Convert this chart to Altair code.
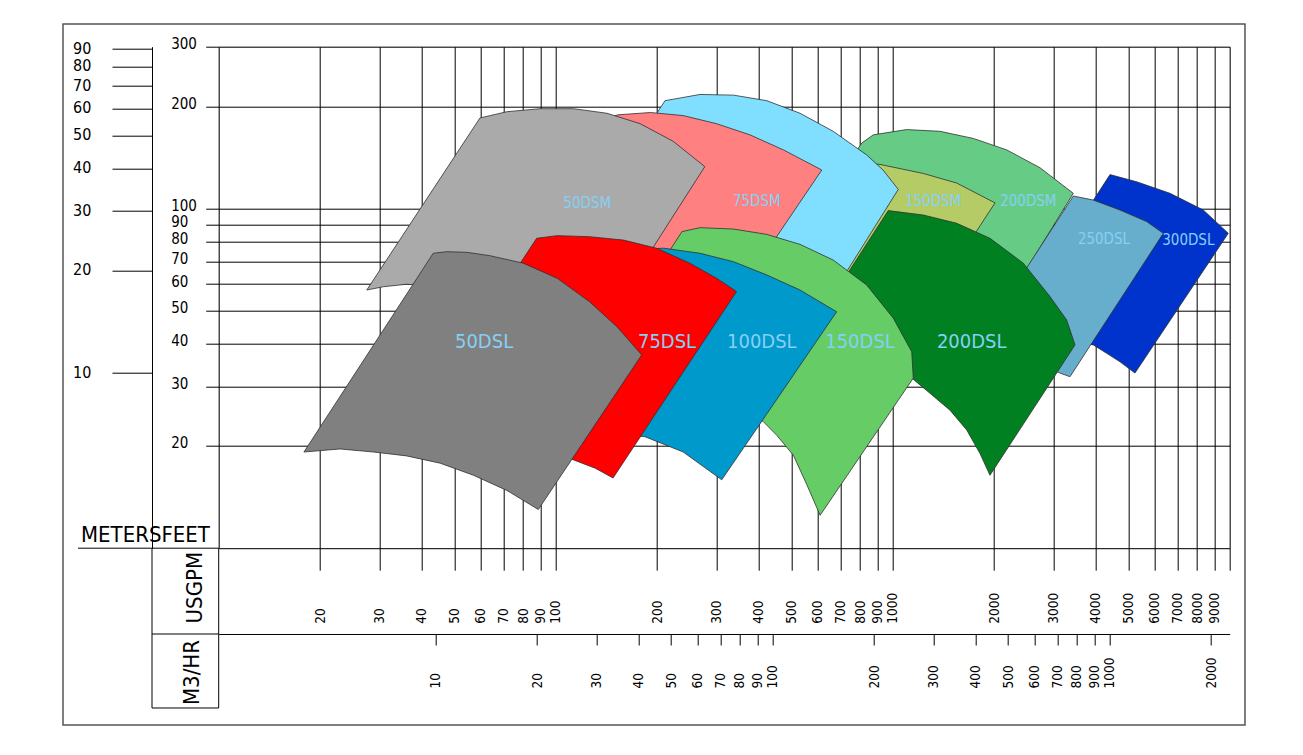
import altair as alt
import pandas as pd

NARROW = "DejaVu Sans Condensed, Liberation Sans Narrow, Liberation Sans, sans-serif"
LABEL_COLOR = "#86D0F4"

# ---------------- axis tick values ----------------
gpm_ticks = [20, 30, 40, 50, 60, 70, 80, 90, 100, 200, 300, 400, 500, 600, 700, 800, 900,
             1000, 2000, 3000, 4000, 5000, 6000, 7000, 8000, 9000, 10000]
feet_ticks = [20, 30, 40, 50, 60, 70, 80, 90, 100, 200, 300]
meter_ticks = [10, 20, 30, 40, 50, 60, 70, 80, 90]
m3_ticks = [10, 20, 30, 40, 50, 60, 70, 80, 90, 100, 200, 300, 400, 500, 600, 700, 800, 900,
            1000, 2000]

# ---------------- pump coverage areas: boundary points (USGPM, feet) ----------------
s50DSL_gpm = [17.9, 43.3, 47.5, 54.4, 63.8, 80.1, 101, 126, 152, 180, 88.8, 71.6, 57.0, 45.4, 36.1, 28.8, 22.9]
s50DSL_ft = [19.2, 73.9, 74.7, 74.4, 72.7, 69.1, 62.4, 53.2, 44.9, 37.1, 13.0, 14.8, 16.4, 17.8, 18.7, 19.2, 19.6]

s50DSM_gpm = [27.5, 59.6, 71.6, 89.9, 113, 142, 178, 223, 277, 126, 103, 78.4, 59.6, 45.4, 36.1, 30.8]
s50DSM_ft = [57.6, 185, 193, 197, 197, 191, 178, 158, 133, 39.2, 45.4, 52.0, 56.5, 59.2, 59.9, 58.9]

s75DSL_gpm = [37.4, 87.8, 101, 126, 159, 199, 250, 300, 344, 148, 131, 113, 89.9, 68.4, 52.0]
s75DSL_ft = [22.6, 81.8, 83.3, 82.7, 80.8, 76.5, 69.1, 62.4, 57.0, 16.1, 17.2, 18.2, 20.1, 21.8, 22.8]

s75DSM_gpm = [62.1, 140, 153, 191, 239, 300, 377, 474, 616, 262, 204, 155, 118, 89.9]
s75DSM_ft = [53.1, 184, 189, 192, 188, 178, 165, 149, 130, 37.1, 42.5, 47.7, 51.3, 53.1]

s100DSL_gpm = [69.3, 164, 209, 268, 337, 423, 531, 682, 311, 239, 184, 135, 96.2]
s100DSL_ft = [20.8, 75.6, 76.5, 73.9, 69.8, 63.8, 57.6, 49.7, 15.9, 19.2, 21.3, 22.0, 21.8]

s100DSM_gpm = [93.6, 211, 268, 337, 423, 531, 666, 837, 936, 1039, 459, 352, 268, 191, 135]
s100DSM_ft = [59.6, 208, 217, 216, 208, 191, 169, 144, 130, 114, 31.3, 37.1, 43.9, 52.0, 57.6]

s150DSL_gpm = [97.5, 237, 268, 337, 423, 531, 666, 837, 1004, 1139, 1151, 609, 556, 507, 453, 413, 352, 268, 191, 135]
s150DSL_ft = [22.0, 85.6, 87.9, 87.1, 84.0, 78.5, 70.6, 59.6, 47.6, 37.9, 31.7, 12.5, 15.4, 18.8, 21.5, 23.6, 25.9, 25.5, 24.7, 23.5]

s150DSM_gpm = [397, 773, 917, 1232, 1548, 2012, 1030, 747, 531]
s150DSM_ft = [49.6, 137, 135, 127, 119, 104, 37.6, 45.4, 48.6]

s200DSL_gpm = [424, 970, 1232, 1548, 1944, 2441, 2930, 3283, 3475, 1944, 1816, 1658, 1479, 1290, 1139, 856, 609]
s200DSL_ft = [27.7, 98.7, 95.8, 90.6, 81.8, 69.1, 55.1, 47.0, 39.7, 16.4, 19.0, 22.3, 25.5, 28.6, 31.7, 32.6, 30.1]

s200DSM_gpm = [398, 809, 876, 1100, 1381, 1735, 2179, 2736, 3435, 1760, 1290, 917, 609]
s200DSM_ft = [52.8, 156, 165, 171, 169, 161, 149, 132, 111, 37.6, 47.0, 52.0, 53.8]

s250DSL_gpm = [1684, 3435, 3938, 4726, 5671, 6353, 3358, 3136, 2736, 2229]
s250DSL_ft = [36.6, 109, 106, 99.1, 91.6, 84.6, 32.0, 32.8, 34.9, 36.3]

s300DSL_gpm = [2125, 4414, 5297, 6650, 8350, 9904, 5236, 4726, 4315, 3938, 2930]
s300DSL_ft = [41.1, 126, 120, 111, 99.1, 84.6, 32.8, 35.4, 37.5, 39.7, 41.6]

# drawing order (back to front) and fill colours
shape_order = ["300DSL", "200DSM", "250DSL", "150DSM", "100DSM", "75DSM", "50DSM",
               "200DSL", "150DSL", "100DSL", "75DSL", "50DSL"]
shape_colors = {
    "50DSL": "#808080", "50DSM": "#AAAAAA",
    "75DSL": "#FF0000", "75DSM": "#FF8080",
    "100DSL": "#0099CC", "100DSM": "#80DFFF",
    "150DSL": "#66CC66", "150DSM": "#B5CC66",
    "200DSL": "#008020", "200DSM": "#66CC85",
    "250DSL": "#66AECC", "300DSL": "#0033CC",
}
shape_points = {
    "50DSL": (s50DSL_gpm, s50DSL_ft), "50DSM": (s50DSM_gpm, s50DSM_ft),
    "75DSL": (s75DSL_gpm, s75DSL_ft), "75DSM": (s75DSM_gpm, s75DSM_ft),
    "100DSL": (s100DSL_gpm, s100DSL_ft), "100DSM": (s100DSM_gpm, s100DSM_ft),
    "150DSL": (s150DSL_gpm, s150DSL_ft), "150DSM": (s150DSM_gpm, s150DSM_ft),
    "200DSL": (s200DSL_gpm, s200DSL_ft), "200DSM": (s200DSM_gpm, s200DSM_ft),
    "250DSL": (s250DSL_gpm, s250DSL_ft), "300DSL": (s300DSL_gpm, s300DSL_ft),
}

# area labels
small_labels = ["50DSM", "75DSM", "150DSM", "200DSM", "250DSL", "300DSL"]
small_gpm = [124, 395, 1320, 2526, 4236, 7538]
small_ft = [104, 105, 105, 105, 81.4, 80.8]
big_labels = ["50DSL", "75DSL", "100DSL", "150DSL", "200DSL"]
big_gpm = [61.3, 214, 409, 800, 1716]
big_ft = [40.4, 40.4, 40.6, 40.6, 40.6]

GPM_PER_M3H = 4.40287
FT_PER_M = 1 / 0.3048

rows = []
for name in shape_order:
    g, f = shape_points[name]
    for i, (a, b) in enumerate(zip(g, f)):
        rows.append({"shape": name, "i": i, "gpm": a, "ft": b})
shapes_df = pd.DataFrame(rows)

W, H = 1011, 501.5

x_gpm = alt.X(
    "gpm:Q",
    scale=alt.Scale(type="log", domain=[10, 10000], nice=False),
    axis=alt.Axis(
        orient="bottom", values=gpm_ticks, format="d",
        labelExpr="datum.value >= 10000 ? '' : datum.label",
        grid=True, gridColor="black", gridOpacity=1, gridWidth=1,
        domainColor="black", domainWidth=1, tickColor="black", tickWidth=1, tickSize=22,
        labelAngle=270, labelAlign="left", labelBaseline="middle", labelPadding=53,
        labelFont=NARROW, labelFontSize=13.5, labelColor="black", labelOverlap=False, labelFlush=False,
        title="USGPM", titleFont=NARROW, titleFontSize=22, titleFontWeight="normal", titleColor="black",
        titleAngle=270, titleAlign="center", titleBaseline="middle", titleX=-24, titleY=39,
    ),
)
y_ft = alt.Y(
    "ft:Q",
    scale=alt.Scale(type="log", domain=[10, 300], nice=False),
    axis=alt.Axis(
        orient="left", values=feet_ticks, format="d",
        grid=True, gridColor="black", gridOpacity=1, gridWidth=1,
        domainColor="black", domainWidth=1, tickColor="black", tickWidth=1, tickSize=13,
        labelAlign="left", labelBaseline="middle", labelPadding=35, labelOffset=-3,
        labelFont=NARROW, labelFontSize=15, labelColor="black", labelOverlap=False, labelFlush=False,
        title="",
    ),
)

layers = []
# outer frame and box lines
one = pd.DataFrame({"a": [0]})
layers.append(alt.Chart(one).mark_rect(fillOpacity=0, stroke="#555555", strokeWidth=1.5).encode(
    x=alt.value(-155.7), x2=alt.value(1026.3), y=alt.value(-22.7), y2=alt.value(678.3)))
for (xa, xb, ya, yb) in [(-66.7, -66.7, H, 661.3), (0, 0, H, 661.3), (-140.7, 0, H, H),
                         (-66.7, 0, 587.3, 587.3), (-66.7, 0, 661.3, 661.3)]:
    layers.append(alt.Chart(one).mark_rule(color="black", strokeWidth=1).encode(
        x=alt.value(xa), x2=alt.value(xb), y=alt.value(ya), y2=alt.value(yb)))

for name in shape_order:
    layers.append(
        alt.Chart(shapes_df).transform_filter(alt.datum.shape == name)
        .mark_line(filled=True, interpolate="linear-closed", fill=shape_colors[name],
                   stroke="#303030", strokeWidth=0.8, strokeJoin="round")
        .encode(x=x_gpm, y=y_ft, order=alt.Order("i:Q"))
    )

small_df = pd.DataFrame({"label": small_labels, "gpm": small_gpm, "ft": small_ft})
big_df = pd.DataFrame({"label": big_labels, "gpm": big_gpm, "ft": big_ft})
layers.append(alt.Chart(small_df).mark_text(font=NARROW, fontSize=15, color=LABEL_COLOR,
                                            align="center", baseline="middle")
              .encode(x=x_gpm, y=y_ft, text="label:N"))
layers.append(alt.Chart(big_df).mark_text(font=NARROW, fontSize=20, color=LABEL_COLOR,
                                          align="center", baseline="middle")
              .encode(x=x_gpm, y=y_ft, text="label:N"))

main = alt.layer(*layers)

meters = alt.Chart(pd.DataFrame({"m": meter_ticks})).mark_point(opacity=0).encode(
    y=alt.Y("m:Q",
            scale=alt.Scale(type="log", domain=[10 / FT_PER_M, 300 / FT_PER_M], nice=False),
            axis=alt.Axis(orient="left", offset=66.7, values=meter_ticks, format="d", grid=False,
                          domainColor="black", domainWidth=1, tickColor="black", tickWidth=1, tickSize=40,
                          labelAlign="left", labelBaseline="middle", labelPadding=39.5, labelOffset=-1,
                          labelFont=NARROW, labelFontSize=16, labelColor="black",
                          labelOverlap=False, labelFlush=False,
                          title="METERSFEET", titleFont=NARROW, titleFontSize=22,
                          titleFontWeight="normal", titleColor="black", titleAngle=0,
                          titleAlign="left", titleBaseline="alphabetic", titleX=-71.5, titleY=495)))

m3 = alt.Chart(pd.DataFrame({"q": m3_ticks})).mark_point(opacity=0).encode(
    x=alt.X("q:Q",
            scale=alt.Scale(type="log", domain=[10 / GPM_PER_M3H, 10000 / GPM_PER_M3H], nice=False),
            axis=alt.Axis(orient="bottom", offset=85.8, values=m3_ticks, format="d", grid=False,
                          domainColor="black", domainWidth=1, tickColor="black", tickWidth=1, tickSize=11,
                          labelAngle=270, labelAlign="left", labelBaseline="middle", labelPadding=43,
                          labelFont=NARROW, labelFontSize=13.5, labelColor="black",
                          labelOverlap=False, labelFlush=False,
                          title="M3/HR", titleFont=NARROW, titleFontSize=22, titleFontWeight="normal",
                          titleColor="black", titleAngle=270, titleAlign="center",
                          titleBaseline="middle", titleX=-27.7, titleY=38)))

chart = (
    alt.layer(main, meters, m3)
    .resolve_scale(x="independent", y="independent")
    .properties(width=W, height=H,
                padding={"left": 210.7, "top": 38.7, "right": 20, "bottom": 190},
                autosize=alt.AutoSizeParams(type="none"))
    .configure_view(strokeWidth=0)
    .configure(background="white")
)

chart.save("out.html", embed_options={"renderer": "svg", "actions": False})
